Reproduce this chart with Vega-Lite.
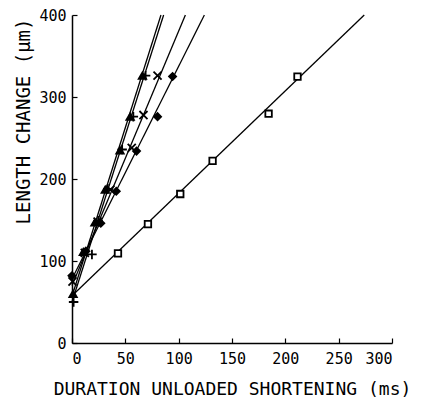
{
  "$schema": "https://vega.github.io/schema/vega-lite/v6.json",
  "autosize": "none",
  "width": 320,
  "height": 328,
  "padding": {"left": 72, "top": 15, "right": 40, "bottom": 57},
  "background": "white",
  "config": {
    "view": {"stroke": null},
    "axis": {"domainColor": "black", "domainWidth": 1.5, "tickColor": "black", "tickWidth": 1.2, "labelColor": "black", "titleColor": "black", "labelFont": "DejaVu Sans Mono", "titleFont": "DejaVu Sans Mono", "labelFontSize": 15, "titleFontSize": 18, "titleFontWeight": "normal", "grid": false}
  },
  "datasets": {
    "pts": [
      {"series": "tri", "x": 1, "y": 60}, {"series": "tri", "x": 10.6, "y": 111}, {"series": "tri", "x": 21.5, "y": 147}, {"series": "tri", "x": 31.2, "y": 187}, {"series": "tri", "x": 45, "y": 235}, {"series": "tri", "x": 54.5, "y": 276}, {"series": "tri", "x": 66, "y": 326},
      {"series": "plus", "x": 1.5, "y": 50}, {"series": "plus", "x": 18.7, "y": 108}, {"series": "plus", "x": 24.5, "y": 149}, {"series": "plus", "x": 33.5, "y": 188}, {"series": "plus", "x": 47, "y": 236}, {"series": "plus", "x": 57.5, "y": 276}, {"series": "plus", "x": 69, "y": 326},
      {"series": "cross", "x": 0.5, "y": 75}, {"series": "cross", "x": 12, "y": 110}, {"series": "cross", "x": 24, "y": 148}, {"series": "cross", "x": 36, "y": 187}, {"series": "cross", "x": 56, "y": 238}, {"series": "cross", "x": 67, "y": 278}, {"series": "cross", "x": 80.2, "y": 326},
      {"series": "diamond", "x": 0, "y": 82}, {"series": "diamond", "x": 13, "y": 112}, {"series": "diamond", "x": 27, "y": 146}, {"series": "diamond", "x": 41.5, "y": 185}, {"series": "diamond", "x": 60.5, "y": 234}, {"series": "diamond", "x": 80.2, "y": 276}, {"series": "diamond", "x": 94.3, "y": 325},
      {"series": "square", "x": 43.1, "y": 109.4}, {"series": "square", "x": 71.2, "y": 145}, {"series": "square", "x": 101.5, "y": 181.7}, {"series": "square", "x": 131.8, "y": 222}, {"series": "square", "x": 184.3, "y": 279.6}, {"series": "square", "x": 211.4, "y": 324.8}
    ],
    "fits": [
      {"series": "tri", "x": 0, "y": 57}, {"series": "tri", "x": 83.4, "y": 400},
      {"series": "plus", "x": 0, "y": 50}, {"series": "plus", "x": 85.9, "y": 400},
      {"series": "cross", "x": 0, "y": 70}, {"series": "cross", "x": 106.3, "y": 400},
      {"series": "diamond", "x": 0, "y": 78}, {"series": "diamond", "x": 124.1, "y": 400},
      {"series": "square", "x": 2, "y": 60}, {"series": "square", "x": 274, "y": 400}
    ]
  },
  "encoding": {
    "x": {"field": "x", "type": "quantitative", "scale": {"domain": [0, 300], "nice": false}, "axis": {"values": [0, 50, 100, 150, 200, 250, 300], "tickSize": -5, "labelPadding": 13, "title": "DURATION UNLOADED SHORTENING (ms)", "titlePadding": 14}},
    "y": {"field": "y", "type": "quantitative", "scale": {"domain": [0, 400], "nice": false}, "axis": {"values": [0, 100, 200, 300, 400], "tickSize": -5, "labelPadding": 11, "title": "LENGTH CHANGE (μm)", "titleFontSize": 19, "titleAnchor": "end", "titleY": 3, "titlePadding": 5}}
  },
  "layer": [
    {
      "data": {"name": "fits"},
      "mark": {"type": "line", "color": "black", "strokeWidth": 1.3},
      "encoding": {"detail": {"field": "series"}}
    },
    {
      "data": {"name": "pts"},
      "mark": {"type": "point", "strokeWidth": 1.8, "opacity": 1},
      "encoding": {
        "shape": {"field": "series", "type": "nominal", "legend": null, "scale": {"domain": ["tri", "plus", "cross", "diamond", "square"], "range": ["triangle-up", "M-1,0L1,0M0,-1L0,1", "M-1,-1L1,1M-1,1L1,-1", "diamond", "square"]}},
        "fill": {"field": "series", "type": "nominal", "legend": null, "scale": {"domain": ["tri", "plus", "cross", "diamond", "square"], "range": ["black", "transparent", "transparent", "black", "white"]}},
        "stroke": {"value": "black"},
        "size": {"field": "series", "type": "nominal", "legend": null, "scale": {"type": "ordinal", "domain": ["tri", "plus", "cross", "diamond", "square"], "range": [55, 90, 65, 50, 42]}}
      }
    }
  ]
}
